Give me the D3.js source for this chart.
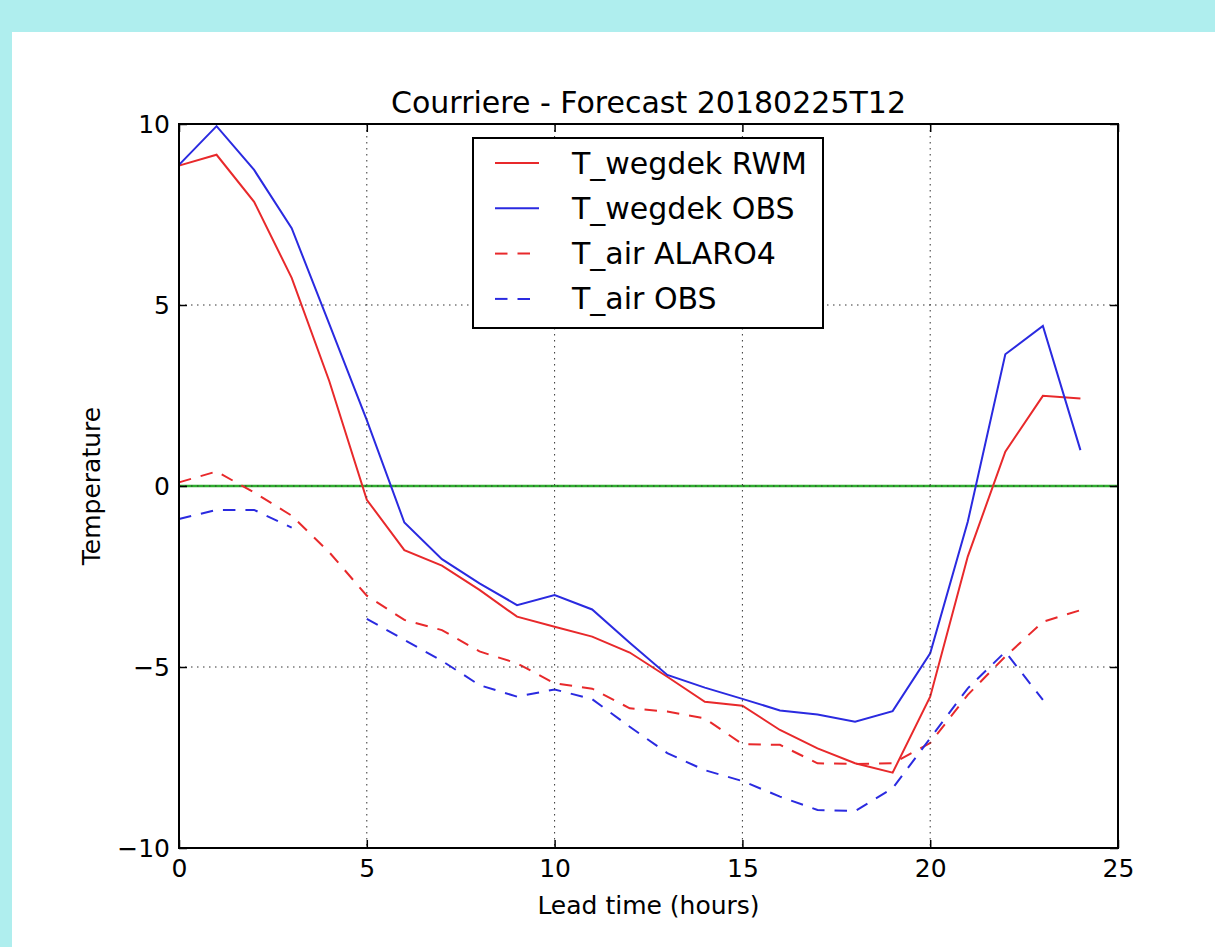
<!DOCTYPE html>
<html>
<head>
<meta charset="utf-8">
<script src="https://cdn.jsdelivr.net/npm/d3@7"></script>
<style>
  html, body { margin: 0; padding: 0; background: #afeeee; }
  svg { display: block; }
  text { font-family: "DejaVu Sans", sans-serif; fill: #000; }
</style>
</head>
<body>
<svg id="container" width="1215" height="947"></svg>
<script>
// lead time (hours)
const hours = [0, 1, 2, 3, 4, 5, 6, 7, 8, 9, 10, 11, 12, 13, 14, 15, 16, 17, 18, 19, 20, 21, 22, 23, 24];

const wegdekRWM = [8.85, 9.15, 7.85, 5.75, 2.9, -0.38, -1.77, -2.2, -2.87, -3.61, -3.89, -4.16, -4.6,
  -5.27, -5.96, -6.07, -6.74, -7.25, -7.66, -7.92, -5.82, -1.95, 0.95, 2.49, 2.42];
const wegdekOBS = [8.87, 9.94, 8.73, 7.12, 4.48, 1.82, -1.01, -2.02, -2.69, -3.29, -3.01, -3.41, -4.33,
  -5.22, -5.57, -5.88, -6.2, -6.31, -6.51, -6.22, -4.62, -0.99, 3.64, 4.42, 0.99];
const airALARO4 = [0.1, 0.4, -0.18, -0.82, -1.83, -3.03, -3.7, -3.98, -4.57, -4.9, -5.45, -5.6, -6.14,
  -6.23, -6.42, -7.13, -7.15, -7.66, -7.68, -7.66, -7.1, -5.77, -4.71, -3.75, -3.43];
const airOBS = [-0.91, -0.66, -0.66, -1.15, null, -3.67, -4.25, -4.83, -5.5, -5.82, -5.62, -5.89, -6.65,
  -7.38, -7.85, -8.15, -8.58, -8.95, -8.98, -8.35, -6.97, -5.59, -4.58, -5.91, null];

const seriesNames = ["T_wegdek RWM", "T_wegdek OBS", "T_air ALARO4", "T_air OBS"];
const xTicks = [0, 5, 10, 15, 20, 25];
const yTicks = [-10, -5, 0, 5, 10];

const title = "Courriere - Forecast 20180225T12";
const xLabel = "Lead time (hours)";
const yLabel = "Temperature";

const RED = "#e8292b";
const BLUE = "#2a2ae0";
const DASH = "12.5,10";
const FONT = 25;
const FONT_LARGE = 30;

const MARGIN = { TOP: 124, LEFT: 179, RIGHT: 1118, BOTTOM: 848 };

const svg = d3.select('#container');

// white panel on turquoise page
svg.append('rect')
  .attr('x', 12).attr('y', 32)
  .attr('width', 1203).attr('height', 915)
  .attr('fill', '#fff');

const x = d3.scaleLinear().domain([0, 25]).range([MARGIN.LEFT, MARGIN.RIGHT]);
const y = d3.scaleLinear().domain([-10, 10]).range([MARGIN.BOTTOM, MARGIN.TOP]);

const plot = svg.append('g');

// zero line
plot.append('line')
  .attr('x1', x(0)).attr('x2', x(25))
  .attr('y1', y(0)).attr('y2', y(0))
  .attr('stroke', '#2fae2f')
  .attr('stroke-width', 2.5);

const series = [
  { name: seriesNames[0], values: wegdekRWM, color: RED, dash: null },
  { name: seriesNames[1], values: wegdekOBS, color: BLUE, dash: null },
  { name: seriesNames[2], values: airALARO4, color: RED, dash: DASH },
  { name: seriesNames[3], values: airOBS, color: BLUE, dash: DASH }
];

const line = d3.line()
  .defined(d => d[1] !== null)
  .x(d => x(d[0]))
  .y(d => y(d[1]));

plot.selectAll('.series')
  .data(series)
  .enter()
  .append('path')
  .attr('class', 'series')
  .attr('d', s => line(hours.map((h, i) => [h, s.values[i]])))
  .attr('fill', 'none')
  .attr('stroke', s => s.color)
  .attr('stroke-width', 2)
  .attr('stroke-dasharray', s => s.dash);

// dotted grid (drawn above the lines, like classic matplotlib)
const grid = svg.append('g')
  .attr('stroke', '#333')
  .attr('stroke-width', 1)
  .attr('stroke-dasharray', '1.5,4.5');
grid.selectAll('.gx')
  .data(xTicks.slice(1, -1))
  .enter()
  .append('line')
  .attr('x1', x).attr('x2', x)
  .attr('y1', MARGIN.TOP).attr('y2', MARGIN.BOTTOM);
grid.selectAll('.gy')
  .data(yTicks.slice(1, -1))
  .enter()
  .append('line')
  .attr('x1', MARGIN.LEFT).attr('x2', MARGIN.RIGHT)
  .attr('y1', y).attr('y2', y);

// axes with inward ticks on all sides
const TICK = 8;
const fmt = d => d < 0 ? "\u2212" + Math.abs(d) : String(d);

svg.append('g')
  .attr('transform', `translate(0, ${MARGIN.BOTTOM})`)
  .call(d3.axisBottom(x).tickValues(xTicks).tickSize(-TICK).tickPadding(10).tickFormat(fmt))
  .call(g => g.select('.domain').remove())
  .call(g => g.selectAll('text').attr('font-size', FONT).attr('dy', '0.76em'));
svg.append('g')
  .attr('transform', `translate(0, ${MARGIN.TOP})`)
  .call(d3.axisTop(x).tickValues(xTicks).tickSize(-TICK).tickFormat(''))
  .call(g => g.select('.domain').remove());
svg.append('g')
  .attr('transform', `translate(${MARGIN.LEFT}, 0)`)
  .call(d3.axisLeft(y).tickValues(yTicks).tickSize(-TICK).tickPadding(9).tickFormat(fmt))
  .call(g => g.select('.domain').remove())
  .call(g => g.selectAll('text').attr('font-size', FONT));
svg.append('g')
  .attr('transform', `translate(${MARGIN.RIGHT}, 0)`)
  .call(d3.axisRight(y).tickValues(yTicks).tickSize(-TICK).tickFormat(''))
  .call(g => g.select('.domain').remove());

svg.selectAll('.tick line').attr('stroke', '#000').attr('stroke-width', 1.5);
svg.selectAll('.tick text').attr('font-family', '"DejaVu Sans", sans-serif').attr('fill', '#000');

// frame
svg.append('rect')
  .attr('x', MARGIN.LEFT).attr('y', MARGIN.TOP)
  .attr('width', MARGIN.RIGHT - MARGIN.LEFT)
  .attr('height', MARGIN.BOTTOM - MARGIN.TOP)
  .attr('fill', 'none')
  .attr('stroke', '#000')
  .attr('stroke-width', 2);

// labels
svg.append('text')
  .attr('x', (MARGIN.LEFT + MARGIN.RIGHT) / 2)
  .attr('y', 113)
  .attr('text-anchor', 'middle')
  .attr('font-size', FONT_LARGE)
  .text(title);
svg.append('text')
  .attr('x', (MARGIN.LEFT + MARGIN.RIGHT) / 2)
  .attr('y', 914)
  .attr('text-anchor', 'middle')
  .attr('font-size', FONT)
  .text(xLabel);
svg.append('text')
  .attr('transform', `translate(100, ${(MARGIN.TOP + MARGIN.BOTTOM) / 2}) rotate(-90)`)
  .attr('text-anchor', 'middle')
  .attr('font-size', FONT)
  .text(yLabel);

// legend
const legend = svg.append('g').attr('transform', 'translate(473, 138)');
legend.append('rect')
  .attr('width', 350).attr('height', 190)
  .attr('fill', '#fff')
  .attr('stroke', '#000')
  .attr('stroke-width', 2);
const items = legend.selectAll('.item')
  .data(series)
  .enter()
  .append('g')
  .attr('class', 'item')
  .attr('transform', (d, i) => `translate(0, ${25 + i * 45.3})`);
items.append('line')
  .attr('x1', 22).attr('x2', 66)
  .attr('stroke', d => d.color)
  .attr('stroke-width', 2)
  .attr('stroke-dasharray', d => d.dash);
items.append('text')
  .attr('x', 99)
  .attr('y', 10.5)
  .attr('font-size', FONT_LARGE)
  .text(d => d.name);
</script>
</body>
</html>
